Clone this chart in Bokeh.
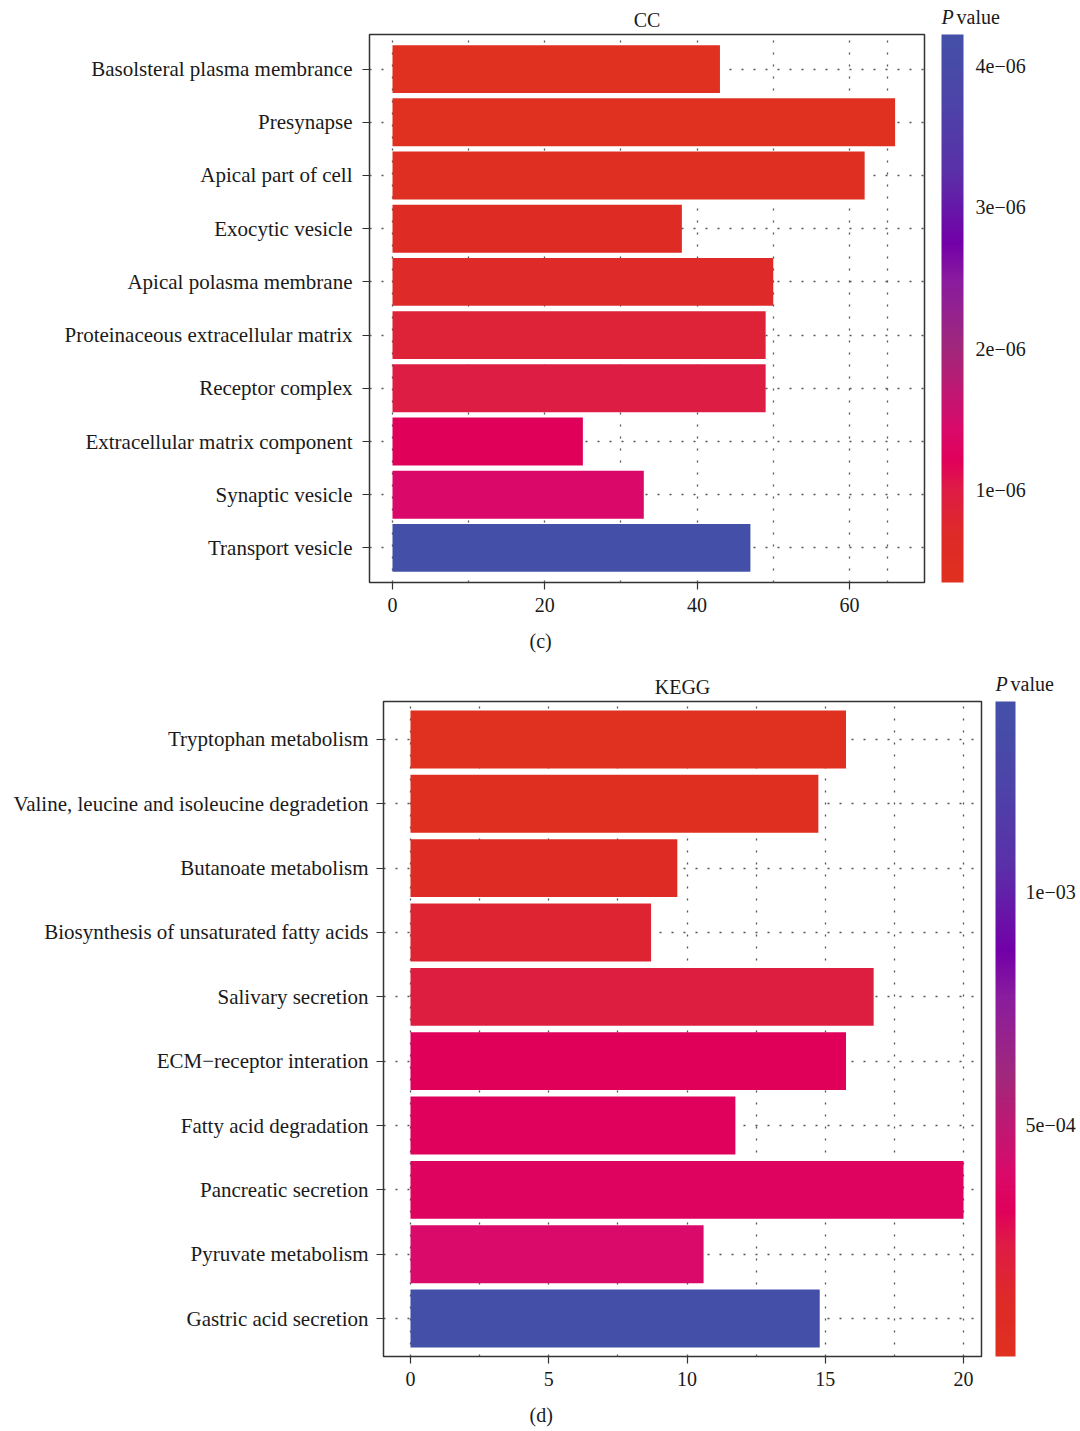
from bokeh.plotting import figure
from bokeh.models import (ColumnDataSource, FactorRange, Range1d, LinearColorMapper, ColorBar,
                          FixedTicker, CustomJSTickFormatter, Title, Label)
from bokeh.transform import transform
from bokeh.layouts import row
from bokeh.embed import file_html
from bokeh.resources import INLINE

# ---------------- data ----------------
cc_terms = ["Basolsteral plasma membrance", "Presynapse", "Apical part of cell", "Exocytic vesicle",
            "Apical polasma membrane", "Proteinaceous extracellular matrix", "Receptor complex",
            "Extracellular matrix component", "Synaptic vesicle", "Transport vesicle"]
cc_counts = [43, 66, 62, 38, 50, 49, 49, 25, 33, 47]
cc_pvalues = [0.35e-6, 0.37e-6, 0.45e-6, 0.55e-6, 0.70e-6, 0.85e-6, 1.00e-6, 1.20e-6, 1.42e-6, 4.22e-6]
cc_x_ticks = [0, 20, 40, 60]
cc_grid_ticks = [0, 10, 20, 30, 40, 50, 60, 65]
cc_cbar_ticks = [1e-06, 2e-06, 3e-06, 4e-06]
cc_cbar_labels = ["1e\u221206", "2e\u221206", "3e\u221206", "4e\u221206"]

kegg_terms = ["Tryptophan metabolism", "Valine, leucine and isoleucine degradetion",
              "Butanoate metabolism", "Biosynthesis of unsaturated fatty acids",
              "Salivary secretion", "ECM\u2212receptor interation", "Fatty acid degradation",
              "Pancreatic secretion", "Pyruvate metabolism", "Gastric acid secretion"]
kegg_counts = [15.75, 14.75, 9.65, 8.7, 16.75, 15.75, 11.75, 20.0, 10.6, 14.8]
kegg_pvalues = [2e-6, 3e-5, 8.5e-5, 1.7e-4, 2.25e-4, 3.1e-4, 3.25e-4, 3.4e-4, 3.95e-4, 1.41e-3]
kegg_x_ticks = [0, 5, 10, 15, 20]
kegg_grid_ticks = [0, 2.5, 5, 7.5, 10, 12.5, 15, 17.5, 20]
kegg_cbar_ticks = [5e-04, 1e-03]
kegg_cbar_labels = ["5e\u221204", "1e\u221203"]

FONT = "Liberation Serif"
FS_Y = "21px"
FS = "20px"
TXT = "#1a1a1a"

# colour ramp (styling)
anchors = [(0.00, "#E03020"), (0.03, "#DF2E22"), (0.05, "#DE2C24"), (0.09, "#DE2A28"),
           (0.13, "#DE2238"), (0.17, "#DE1C46"), (0.22, "#E0005A"), (0.28, "#D90A6A"),
           (0.43, "#A0287C"), (0.55, "#8A1C9E"), (0.62, "#7200A8"), (0.75, "#5A30A8"),
           (0.88, "#4C44A8"), (1.00, "#4450A8")]


def hex2rgb(h):
    return tuple(int(h[i:i + 2], 16) for i in (1, 3, 5))


def build_palette(n=256):
    pal = []
    for i in range(n):
        t = i / (n - 1)
        for (t0, c0), (t1, c1) in zip(anchors[:-1], anchors[1:]):
            if t0 <= t <= t1:
                f = (t - t0) / (t1 - t0) if t1 > t0 else 0
                a, b = hex2rgb(c0), hex2rgb(c1)
                rgb = [round(a[k] + (b[k] - a[k]) * f) for k in range(3)]
                pal.append("#%02x%02x%02x" % tuple(rgb))
                break
    return pal


PALETTE = build_palette()


def make_panel(terms, counts, pvals, x_ticks, grid_ticks, x_start, x_end, y_pad,
               frame_w, frame_h, bl, bt, br, total_h, title, caption, cb_ticks, cb_labels,
               cb_x, cb_width, cb_standoff, cap_offset, cap_standoff, title_standoff,
               y_standoff, cb_fig_w):
    src = ColumnDataSource(dict(term=terms, count=counts, p=pvals))
    mapper = LinearColorMapper(palette=PALETTE, low=min(pvals), high=max(pvals))
    p = figure(y_range=FactorRange(factors=list(reversed(terms)), range_padding=y_pad,
                                   range_padding_units="absolute"),
               x_range=Range1d(x_start, x_end),
               frame_width=frame_w, frame_height=frame_h,
               min_border_left=bl, min_border_top=bt, min_border_right=br,
               min_border_bottom=total_h - bt - frame_h,
               toolbar_location=None, output_backend="svg")
    p.frame_align = False
    p.hbar(y="term", left=0, right="count", height=0.9, source=src,
           fill_color=transform("p", mapper), line_color=None)

    p.title.text = title
    p.title.align = "center"
    p.title.vertical_align = "top"
    p.title.text_font = FONT
    p.title.text_font_size = FS
    p.title.text_font_style = "normal"
    p.title.text_color = TXT
    p.title.standoff = title_standoff

    p.outline_line_color = "#333333"
    p.outline_line_width = 1.5
    for ax in (p.xaxis, p.yaxis):
        ax.axis_line_color = None
        ax.major_tick_line_color = "#333333"
        ax.major_tick_line_width = 1.2
        ax.major_tick_out = 7
        ax.major_tick_in = 0
        ax.minor_tick_line_color = None
        ax.major_label_text_font = FONT
        ax.major_label_text_color = TXT
    p.xaxis.major_label_text_font_size = FS
    p.yaxis.major_label_text_font_size = FS_Y
    p.xaxis.ticker = FixedTicker(ticks=x_ticks)
    p.xaxis.major_label_standoff = 8
    p.yaxis.major_label_standoff = y_standoff

    p.xgrid.ticker = FixedTicker(ticks=grid_ticks)
    for g in (p.xgrid, p.ygrid):
        g.grid_line_color = "#555555"
        g.grid_line_dash = "2 10"
        g.grid_line_width = 1.3

    p.add_layout(Title(text=caption, align="left", offset=cap_offset, text_font=FONT,
                       text_font_size=FS, text_font_style="normal", text_color=TXT,
                       standoff=cap_standoff), "below")

    # colour-bar strip (its own small canvas so that its texts are not clipped)
    c = figure(width=cb_fig_w, height=total_h, x_range=Range1d(0, cb_fig_w),
               y_range=Range1d(0, total_h), x_axis_type=None, y_axis_type=None,
               min_border=0, toolbar_location=None, output_backend="svg")
    c.frame_align = False
    c.outline_line_color = None
    c.xgrid.visible = False
    c.ygrid.visible = False
    cb = ColorBar(color_mapper=mapper, width=cb_width, height=frame_h,
                  ticker=FixedTicker(ticks=cb_ticks),
                  formatter=CustomJSTickFormatter(args=dict(tk=cb_ticks, lb=cb_labels), code="""
                      let best = 0, d = Infinity;
                      for (let i = 0; i < tk.length; i++) {
                          const dd = Math.abs(tk[i] - tick);
                          if (dd < d) { d = dd; best = i; }
                      }
                      return lb[best];
                  """),
                  major_label_text_font=FONT, major_label_text_font_size=FS,
                  major_label_text_color=TXT,
                  major_tick_line_color=None, minor_tick_line_color=None,
                  bar_line_color=None, border_line_color=None, background_fill_color=None,
                  padding=0, margin=0, label_standoff=cb_standoff,
                  location=(cb_x, total_h - bt - frame_h))
    c.add_layout(cb, "center")
    ty = total_h - (bt - 18)
    c.add_layout(Label(x=cb_x, y=ty, text="P", text_align="left", text_baseline="middle",
                       text_font=FONT, text_font_style="italic", text_font_size=FS,
                       text_color=TXT))
    c.add_layout(Label(x=cb_x + 15, y=ty, text="value", text_align="left",
                       text_baseline="middle", text_font=FONT, text_font_size=FS,
                       text_color=TXT))
    return row(p, c, spacing=0)


r1 = make_panel(cc_terms, cc_counts, cc_pvalues, cc_x_ticks, cc_grid_ticks, -3.02, 69.86, 0.15,
                555, 548, 369, 34, 5, 665, "CC", "(c)", cc_cbar_ticks, cc_cbar_labels,
                12, 22, 12, 160, 27, 4, 10, 151)
r2 = make_panel(kegg_terms, kegg_counts, kegg_pvalues, kegg_x_ticks, kegg_grid_ticks, -0.976, 20.65, 0.09,
                598, 655, 383, 36, 5, 766, "KEGG", "(d)", kegg_cbar_ticks, kegg_cbar_labels,
                9, 20, 10, 146, 26, 4, 8, 94)

open("out.html", "w").write(file_html([r1, r2], INLINE))
